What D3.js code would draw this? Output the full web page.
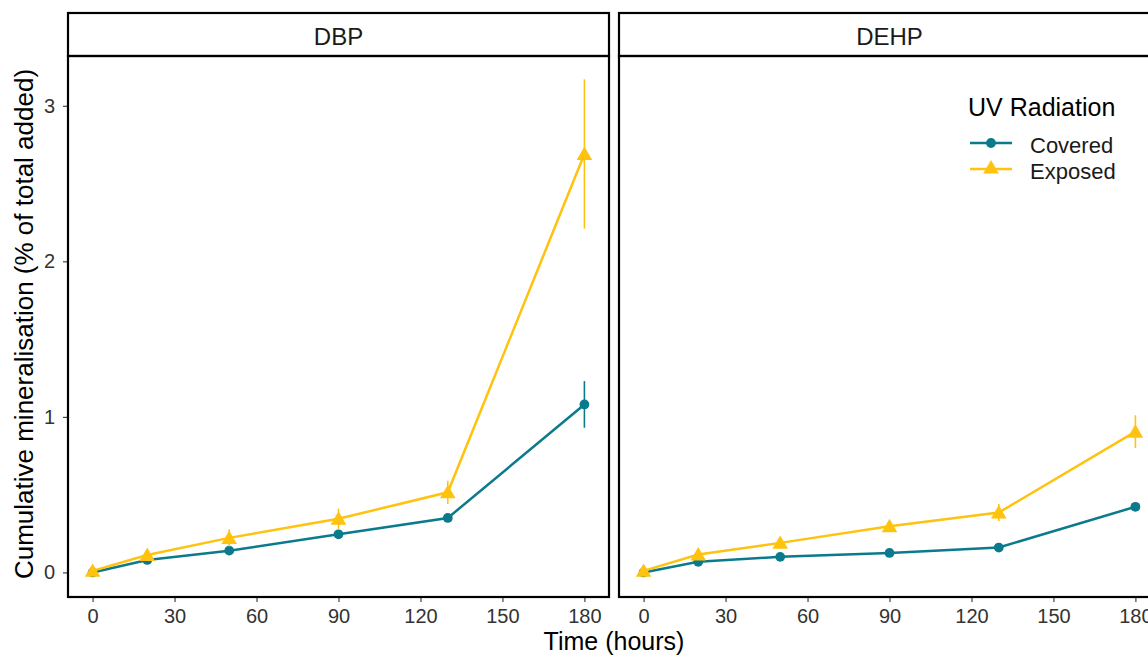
<!DOCTYPE html>
<html>
<head>
<meta charset="utf-8">
<script src="https://cdn.jsdelivr.net/npm/d3@7"></script>
<style>
  html, body { margin: 0; padding: 0; background: #fff; }
  svg { display: block; font-family: "Liberation Sans", Arial, sans-serif; }
</style>
</head>
<body>
<svg id="chart" width="1148" height="658"></svg>
<script>
// Sampling times (hours)
const times = [0, 20, 50, 90, 130, 180];
const panels = ["DBP", "DEHP"];
const treatments = ["Covered", "Exposed"];
const xTicks = [0, 30, 60, 90, 120, 150, 180];
const yTicks = [0, 1, 2, 3];

// Mean cumulative mineralisation (% of total added) and standard errors
const dbpCovered = [0, 0.08, 0.14, 0.245, 0.35, 1.08];
const dbpCoveredSE = [0.01, 0.01, 0.015, 0.02, 0.02, 0.15];
const dbpExposed = [0.01, 0.112, 0.222, 0.345, 0.515, 2.69];
const dbpExposedSE = [0.02, 0.03, 0.055, 0.065, 0.075, 0.48];
const dehpCovered = [0, 0.068, 0.1, 0.125, 0.16, 0.422];
const dehpCoveredSE = [0.005, 0.01, 0.01, 0.01, 0.01, 0.02];
const dehpExposed = [0.01, 0.115, 0.19, 0.297, 0.385, 0.905];
const dehpExposedSE = [0.01, 0.02, 0.02, 0.03, 0.055, 0.105];

const seriesByPanel = {
  DBP: { Covered: [dbpCovered, dbpCoveredSE], Exposed: [dbpExposed, dbpExposedSE] },
  DEHP: { Covered: [dehpCovered, dehpCoveredSE], Exposed: [dehpExposed, dehpExposedSE] }
};

const colour = d3.scaleOrdinal().domain(treatments).range(["#0b7a8c", "#ffc20e"]);
const shape = d3.scaleOrdinal().domain(treatments).range([d3.symbolCircle, d3.symbolTriangle]);
const symSize = { Covered: 75, Exposed: 105 };

const svg = d3.select("#chart");

const panelW = 541, panelTop = 56, panelBottom = 597, stripTop = 13;
const panelX = d3.scaleBand().domain(panels).range([68, 68 + 2 * panelW + 10]).paddingInner(10 / (panelW + 10));

const y = d3.scaleLinear().domain([-0.158, 3.32]).range([panelBottom, panelTop]);

function styleAxis(sel) {
  sel.select(".domain").remove();
  sel.selectAll(".tick line").attr("stroke", "#333").attr("stroke-width", 1.1);
  sel.selectAll(".tick text")
    .style("font-family", "'Liberation Sans', Arial, sans-serif")
    .style("font-size", "20px")
    .style("fill", "#333");
}

panels.forEach(p => {
  const x0 = panelX(p);
  const x = d3.scaleLinear().domain([-9, 189]).range([x0, x0 + panelW]);
  const g = svg.append("g");

  // facet strip
  g.append("rect").attr("x", x0).attr("y", stripTop).attr("width", panelW).attr("height", panelTop - stripTop)
    .attr("fill", "#fff").attr("stroke", "#000").attr("stroke-width", 2.2);
  g.append("text").attr("x", x0 + panelW / 2).attr("y", 45)
    .attr("text-anchor", "middle").attr("font-size", 24).attr("fill", "#1a1a1a").text(p);

  // x axis
  g.append("g").attr("transform", `translate(0,${panelBottom})`)
    .call(d3.axisBottom(x).tickValues(xTicks).tickSize(5).tickPadding(7).tickFormat(d3.format("d")))
    .call(styleAxis);

  // y axis (first panel only)
  if (p === panels[0]) {
    g.append("g").attr("transform", `translate(${x0},0)`)
      .call(d3.axisLeft(y).tickValues(yTicks).tickSize(5).tickPadding(8).tickFormat(d3.format("d")))
      .call(styleAxis);
  }

  const plot = g.append("g");
  treatments.forEach(t => {
    const [vals, se] = seriesByPanel[p][t];
    const pts = times.map((tm, i) => ({ t: tm, v: vals[i], se: se[i] }));
    const c = colour(t);
    // error bars
    plot.selectAll(null).data(pts).enter().append("line")
      .attr("x1", d => x(d.t)).attr("x2", d => x(d.t))
      .attr("y1", d => y(d.v - d.se)).attr("y2", d => y(d.v + d.se))
      .attr("stroke", c).attr("stroke-width", 1.6);
    // line
    plot.append("path").datum(pts)
      .attr("d", d3.line().x(d => x(d.t)).y(d => y(d.v)))
      .attr("fill", "none").attr("stroke", c).attr("stroke-width", 2.5);
    // points
    plot.selectAll(null).data(pts).enter().append("path")
      .attr("d", d3.symbol().type(shape(t)).size(symSize[t]))
      .attr("transform", d => `translate(${x(d.t)},${y(d.v) + (t === "Exposed" ? 1.5 : 0)})`)
      .attr("fill", c);
  });

  // panel border
  g.append("rect").attr("x", x0).attr("y", panelTop).attr("width", panelW).attr("height", panelBottom - panelTop)
    .attr("fill", "none").attr("stroke", "#000").attr("stroke-width", 2.2);
});

// axis titles
svg.append("text").attr("x", 614).attr("y", 650).attr("text-anchor", "middle")
  .attr("font-size", 25).attr("fill", "#000").text("Time (hours)");
svg.append("text").attr("transform", "translate(33,324) rotate(-90)").attr("text-anchor", "middle")
  .attr("font-size", 26).attr("fill", "#000").text("Cumulative mineralisation (% of total added)");

// legend
const legend = svg.append("g").attr("transform", "translate(968,0)");
legend.append("text").attr("x", 0).attr("y", 116).attr("font-size", 25).attr("fill", "#000").text("UV Radiation");
treatments.forEach((t, i) => {
  const yy = 143 + i * 26;
  legend.append("line").attr("x1", 2).attr("x2", 44).attr("y1", yy).attr("y2", yy)
    .attr("stroke", colour(t)).attr("stroke-width", 2.5);
  legend.append("path").attr("d", d3.symbol().type(shape(t)).size(symSize[t]))
    .attr("transform", `translate(23,${yy})`).attr("fill", colour(t));
  legend.append("text").attr("x", 62).attr("y", yy + 9.5).attr("font-size", 22).attr("fill", "#1a1a1a").text(t);
});
</script>
</body>
</html>
